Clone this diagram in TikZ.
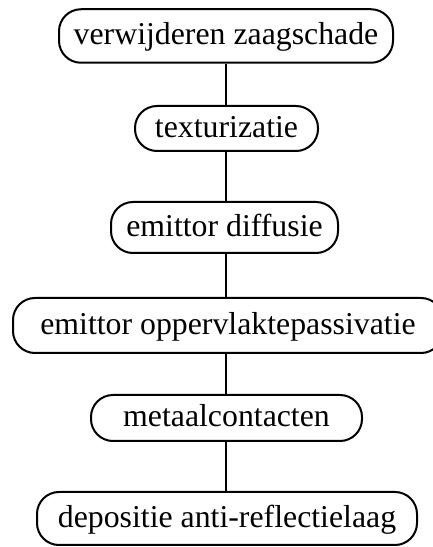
\documentclass[tikz,border=0pt]{standalone}
\usepackage{fontspec}
\setmainfont{Liberation Serif}
\begin{document}
\begin{tikzpicture}[x=1pt,y=1pt,
  stepbox/.style={draw, line width=2pt, rounded corners=22pt, inner sep=0pt,
    font=\fontsize{31.8}{38}\selectfont, text height=22pt, text depth=4pt},
  link/.style={line width=2pt}]
\useasboundingbox (0,0) rectangle (433,547);
\node[stepbox, minimum width=334pt, minimum height=53.5pt] (n1) at (226,511) {verwijderen zaagschade};
\node[stepbox, minimum width=183pt, minimum height=45pt] (n2) at (226.5,418.5) {texturizatie};
\node[stepbox, minimum width=227pt, minimum height=51pt] (n3) at (224.5,319.5) {emittor diffusie};
\node[stepbox, minimum width=430pt, minimum height=55pt] (n4) at (228,221.5) {emittor oppervlaktepassivatie};
\node[stepbox, minimum width=271pt, minimum height=46pt] (n5) at (226.5,129) {metaalcontacten};
\node[stepbox, minimum width=380pt, minimum height=53pt] (n6) at (227,28.5) {depositie anti-reflectielaag};
\coordinate (cx) at (226,0);
\draw[link] (n1.south -| cx) -- (n2.north -| cx);
\draw[link] (n2.south -| cx) -- (n3.north -| cx);
\draw[link] (n3.south -| cx) -- (n4.north -| cx);
\draw[link] (n4.south -| cx) -- (n5.north -| cx);
\draw[link] (n5.south -| cx) -- (n6.north -| cx);
\end{tikzpicture}
\end{document}
